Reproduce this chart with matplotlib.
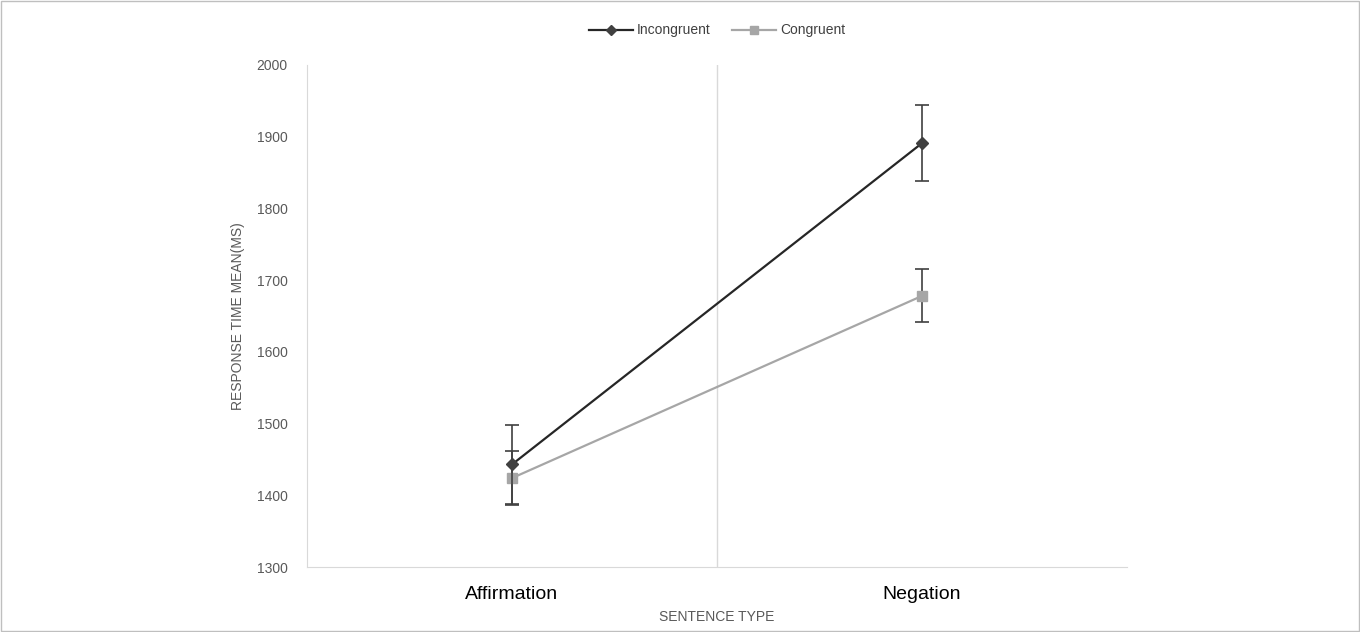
import matplotlib

matplotlib.use("Agg")

import matplotlib.pyplot as plt
from matplotlib.lines import Line2D
import numpy as np

categories = ["Affirmation", "Negation"]
incongruent = [1443, 1891]
incongruent_err = [55, 53]
congruent = [1424, 1678]
congruent_err = [38, 37]
y_ticks = [1300, 1400, 1500, 1600, 1700, 1800, 1900, 2000]

plt.rcParams["font.family"] = ["Liberation Sans", "DejaVu Sans"]

fig = plt.figure(figsize=(13.6, 6.32), dpi=100)
ax = fig.add_axes([0.2257, 0.1028, 0.603, 0.7944])

x = np.arange(len(categories)) + 0.5

ax.errorbar(x, incongruent, yerr=incongruent_err, color="#262626", lw=1.6,
            marker="D", ms=6, mfc="#404040", mec="#404040",
            ecolor="#404040", elinewidth=1.2, capsize=5, capthick=1.2,
            zorder=3)
ax.errorbar(x, congruent, yerr=congruent_err, color="#a6a6a6", lw=1.6,
            marker="s", ms=7, mfc="#a6a6a6", mec="#a6a6a6",
            ecolor="#404040", elinewidth=1.2, capsize=5, capthick=1.2,
            zorder=2)

ax.set_xlim(0, 2)
ax.set_ylim(1300, 2000)
ax.set_yticks(y_ticks)
ax.set_xticks(x)
ax.set_xticklabels(categories, fontsize=14, color="#000000")
ax.tick_params(axis="y", length=0, labelsize=10, colors="#595959", pad=14)
ax.tick_params(axis="x", length=0, pad=14)
ax.axvline(1, color="#d9d9d9", lw=1)

for side in ["top", "right"]:
    ax.spines[side].set_visible(False)
for side in ["left", "bottom"]:
    ax.spines[side].set_color("#d9d9d9")

ax.set_ylabel("RESPONSE TIME MEAN(MS)", fontsize=10, color="#595959", labelpad=8)
ax.set_xlabel("SENTENCE TYPE", fontsize=10, color="#595959", labelpad=5)

handles = [
    Line2D([], [], color="#262626", lw=1.6, marker="D", ms=5,
           mfc="#404040", mec="#404040"),
    Line2D([], [], color="#a6a6a6", lw=1.6, marker="s", ms=6,
           mfc="#a6a6a6", mec="#a6a6a6"),
]
ax.legend(handles, ["Incongruent", "Congruent"], loc="lower center",
          bbox_to_anchor=(0.5, 1.03), ncol=2, frameon=False, fontsize=10,
          handlelength=3.2, handletextpad=0.3, columnspacing=1.5,
          labelcolor="#404040")

fig.add_artist(plt.Rectangle((0.001, 0.001), 0.998, 0.998, transform=fig.transFigure,
                             fill=False, edgecolor="#bfbfbf", lw=1))

fig.savefig("out.png", dpi=100)
